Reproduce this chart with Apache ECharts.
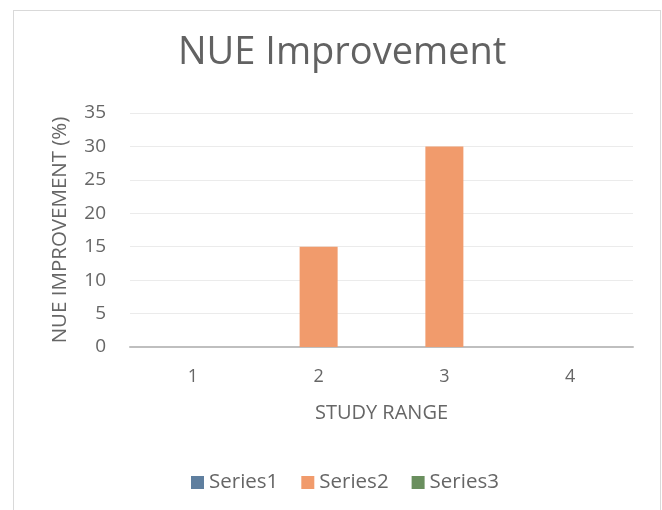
<!DOCTYPE html>
<html>
<head>
<meta charset="utf-8">
<script src="https://cdn.jsdelivr.net/npm/echarts@6/dist/echarts.min.js"></script>
<style>
html,body{margin:0;padding:0;background:#fff;}
#frame{position:absolute;left:13px;top:10px;width:648px;height:600px;border:1px solid #d9d9d9;box-sizing:border-box;}
#chart{position:absolute;left:0;top:0;width:662px;height:510px;}
</style>
</head>
<body>
<div id="frame"></div>
<div id="chart"></div>
<script>
const categories = ['1', '2', '3', '4'];
const seriesNames = ['Series1', 'Series2', 'Series3'];
const series1 = [0, 0, 0, 0];
const series2 = [0, 15, 30, 0];
const series3 = [0, 0, 0, 0];
const colors = ['#5F7F9F', '#F19B6C', '#6A8F5E'];

const FONT = '"Open Sans", "Noto Sans", sans-serif';
const TXT = '#666666';
const chart = echarts.init(document.getElementById('chart'), null, {renderer: 'canvas'});
const values = [series1, series2, series3];
chart.setOption({
  animation: false,
  title: {
    text: 'NUE Improvement',
    left: 173,
    top: 29,
    textStyle: {fontFamily: FONT, fontSize: 38, fontWeight: 'normal', color: '#626262'}
  },
  legend: {
    data: seriesNames,
    top: 472,
    left: 191,
    padding: 0,
    itemWidth: 13,
    itemHeight: 13,
    itemGap: 23,
    icon: 'rect',
    textStyle: {fontFamily: FONT, fontSize: 20.5, color: TXT}
  },
  grid: {left: 130, right: 29, top: 113, bottom: 163, containLabel: false},
  xAxis: {
    type: 'category',
    data: categories,
    name: 'STUDY RANGE',
    nameLocation: 'middle',
    nameGap: 56,
    nameTextStyle: {fontFamily: FONT, fontSize: 20, color: TXT},
    axisLine: {lineStyle: {color: '#BFBFBF', width: 2}},
    axisTick: {show: false},
    axisLabel: {fontFamily: FONT, fontSize: 18, color: TXT, margin: 21}
  },
  yAxis: {
    type: 'value',
    min: 0,
    max: 35,
    interval: 5,
    name: 'NUE IMPROVEMENT (%)',
    nameLocation: 'middle',
    nameGap: 59,
    nameTextStyle: {fontFamily: FONT, fontSize: 20.5, color: TXT},
    axisLine: {show: false},
    axisTick: {show: false},
    axisLabel: {fontFamily: FONT, fontSize: 19, color: TXT, margin: 24},
    splitLine: {lineStyle: {color: '#EBEBEB', width: 1}}
  },
  series: seriesNames.map((n, i) => ({
    name: n,
    type: 'bar',
    data: values[i],
    barWidth: 38,
    barGap: '0%',
    itemStyle: {color: colors[i]}
  }))
});
</script>
</body>
</html>
